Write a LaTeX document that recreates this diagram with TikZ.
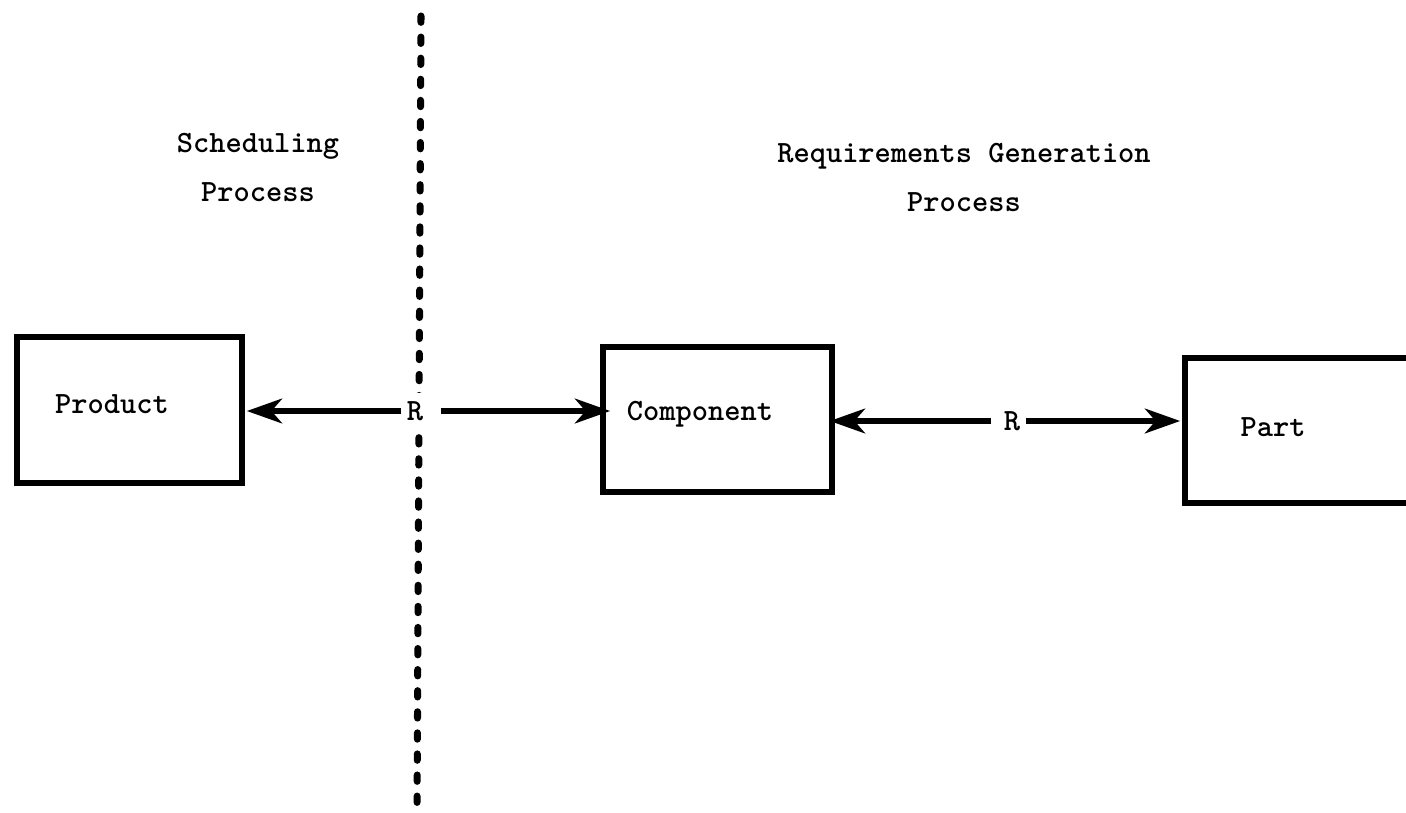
\documentclass[tikz,border=0pt]{standalone}
\usetikzlibrary{arrows.meta}
\begin{document}
\begin{tikzpicture}[x=0.02cm,y=-0.02cm,
  txt/.style={font=\fontsize{17.6}{27.9}\selectfont\ttfamily\bfseries, inner sep=0pt, align=center},
  box/.style={draw, line width=3.5pt, inner sep=0pt, rectangle},
  conn/.style={line width=3.4pt, shorten >=1pt, -{Stealth[length=20pt,width=14pt,inset=6pt]}},
  divider/.style={line width=4pt, line cap=round, dash pattern=on 3.6pt off 8.4pt},
  rnode/.style={txt, fill=white, inner xsep=3pt, inner ysep=5pt},
]
\useasboundingbox (0,0) rectangle (1406,812);
\clip (0,0) rectangle (1406,812);

% divider
\coordinate (dtop) at (421,16);
\coordinate (dbot) at (417,816);
\draw[divider] (dtop) -- (dbot);

% titles
\node[txt] (sched) at (258,167) {Scheduling\\Process};
\node[txt] (reqgen) at (964,177) {Requirements Generation\\Process};

% boxes
\node[box, minimum width=4.5cm, minimum height=2.92cm] (product) at (129.5,410) {};
\node[box, minimum width=4.58cm, minimum height=2.9cm] (component) at (717.5,419.5) {};
\node[box, minimum width=5.1cm, minimum height=2.9cm] (part) at (1312.5,430.5) {};

\node[txt] (productlabel) at (112,404) {Product};
\node[txt] (componentlabel) at (700,414) {Component};
\node[txt] (partlabel) at (1273,427) {Part};

% relation markers
\node[rnode] (r1) at (415,411) {R};
\node[rnode, fill=none] (r2) at (1012,421) {R};

% connectors
\draw[conn] (r1.west) -- (r1.west -| product.east);
\draw[conn] ([xshift=0.24cm]r1.east) -- ([xshift=0.24cm]r1.east -| component.west);
\draw[conn] ([xshift=-0.14cm]r2.west) -- ([xshift=-0.14cm]r2.west -| component.east);
\draw[conn] (r2.east) -- (r2.east -| part.west);
\end{tikzpicture}
\end{document}
